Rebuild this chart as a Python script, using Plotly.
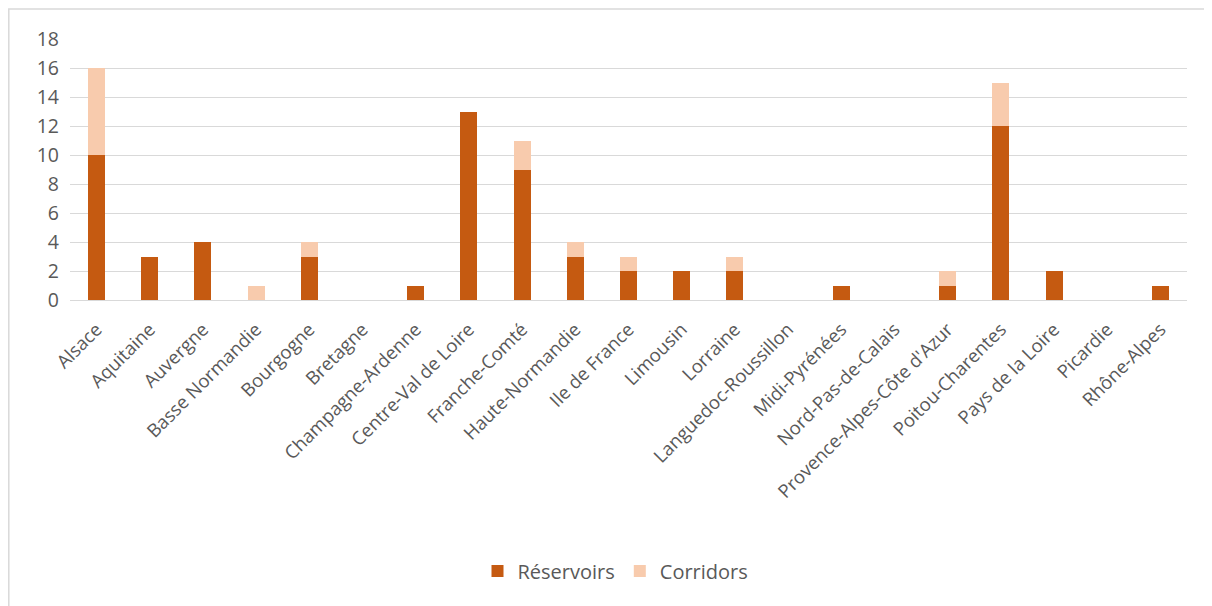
import plotly.graph_objects as go

regions = ["Alsace", "Aquitaine", "Auvergne", "Basse Normandie", "Bourgogne", "Bretagne",
           "Champagne-Ardenne", "Centre-Val de Loire", "Franche-Comté", "Haute-Normandie",
           "Ile de France", "Limousin", "Lorraine", "Languedoc-Roussillon", "Midi-Pyrénées",
           "Nord-Pas-de-Calais", "Provence-Alpes-Côte d'Azur", "Poitou-Charentes",
           "Pays de la Loire", "Picardie", "Rhône-Alpes"]
reservoirs = [10, 3, 4, 0, 3, 0, 1, 13, 9, 3, 2, 2, 2, 0, 1, 0, 1, 12, 2, 0, 1]
corridors = [6, 0, 0, 1, 1, 0, 0, 0, 2, 1, 1, 0, 1, 0, 0, 0, 1, 3, 0, 0, 0]
y_ticks = [0, 2, 4, 6, 8, 10, 12, 14, 16, 18]

# page body has an 8px margin; the figure sits at (8, 8)
W, H = 1204, 598
ml, mr, mt, mb = 62, 25, 31, 306
pw, ph = W - ml - mr, H - mt - mb

fig = go.Figure()
fig.add_trace(go.Bar(x=regions, y=reservoirs, name="Réservoirs",
                     marker=dict(color="#C55A11", line=dict(width=0))))
fig.add_trace(go.Bar(x=regions, y=corridors, name="Corridors",
                     marker=dict(color="#F8CBAD", line=dict(width=0))))

font = dict(family="Open Sans, Liberation Sans, sans-serif", size=18, color="#595959")
fig.update_layout(
    barmode="stack", bargap=0.68,
    width=W, height=H,
    margin=dict(l=ml, r=mr, t=mt, b=mb),
    paper_bgcolor="white", plot_bgcolor="white",
    font=font,
    showlegend=True,
    legend=dict(orientation="h", x=0.5 - 13 / pw, xanchor="center",
                y=(292 - 563) / ph, yanchor="middle",
                font=dict(size=20, color="#595959"), itemwidth=30, traceorder="normal"),
    xaxis=dict(tickangle=-45, tickfont=dict(size=18.5, color="#595959"),
               showgrid=False, showline=False, ticks="", ticklabelstandoff=14),
    yaxis=dict(range=[0, 18], tickvals=y_ticks, tickfont=dict(size=19.5, color="#595959"),
               showgrid=True, gridcolor="#D9D9D9", gridwidth=1,
               zeroline=True, zerolinecolor="#D9D9D9", zerolinewidth=1,
               showline=False, ticks="", ticklabelstandoff=10),
)
fig.add_shape(type="rect", xref="paper", yref="paper",
              x0=(0.8 - ml) / pw, x1=(W + 5 - ml) / pw,
              y0=(292 - (H + 5)) / ph, y1=1 + (mt - 1) / ph,
              line=dict(color="#D9D9D9", width=1.5), layer="below")
fig.write_html("out.html")
